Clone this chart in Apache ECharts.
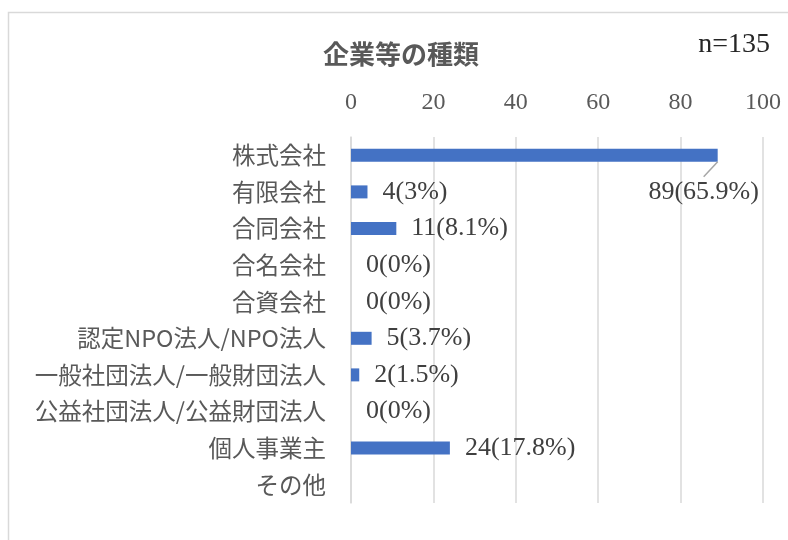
<!DOCTYPE html>
<html>
<head>
<meta charset="utf-8">
<script src="https://cdn.jsdelivr.net/npm/echarts@6/dist/echarts.min.js"></script>
<style>
  html, body { margin: 0; padding: 0; background: #fff; }
  #chart { width: 788px; height: 540px; }
</style>
</head>
<body>
<div id="chart"></div>
<script>
// 企業等の種類 (n=135)
var categories = ['株式会社', '有限会社', '合同会社', '合名会社', '合資会社',
    '認定NPO法人/NPO法人', '一般社団法人/一般財団法人', '公益社団法人/公益財団法人',
    '個人事業主', 'その他'];
var counts = [89, 4, 11, 0, 0, 5, 2, 0, 24, null];
var percents = [65.9, 3, 8.1, 0, 0, 3.7, 1.5, 0, 17.8, null];
var xTicks = [0, 20, 40, 60, 80, 100];
var total = 135;

var serif = '"Liberation Serif", "DejaVu Serif", serif';
var jp = '"Noto Sans CJK JP", sans-serif';
var barW = 13;

var chart = echarts.init(document.getElementById('chart'));

var frame = {
    type: 'rect',
    left: 6,
    top: 10,
    shape: { width: 820, height: 580 },
    style: { fill: 'none', stroke: '#D9D9D9', lineWidth: 1.5 },
    silent: true
};

var option = {
    backgroundColor: '#fff',
    animation: false,
    title: [{
        text: '企業等の種類',
        left: 318,
        top: 36,
        textStyle: { fontFamily: jp, fontSize: 26, fontWeight: 'bold', color: '#595959' }
    }, {
        text: 'n=' + total,
        right: 13,
        top: 26,
        textStyle: { fontFamily: serif, fontSize: 28, fontWeight: 'normal', color: '#262626' }
    }],
    graphic: [frame],
    grid: { left: 351, right: 25, top: 137, bottom: 37 },
    xAxis: {
        type: 'value',
        position: 'top',
        min: xTicks[0],
        max: xTicks[xTicks.length - 1],
        interval: 20,
        axisLine: { show: false },
        axisTick: { show: false },
        axisLabel: { fontFamily: serif, fontSize: 24, color: '#595959', margin: 22 },
        splitLine: { lineStyle: { color: '#D9D9D9', width: 1.5 } }
    },
    yAxis: {
        type: 'category',
        inverse: true,
        data: categories,
        axisLine: { show: true, lineStyle: { color: '#D9D9D9', width: 1.5 } },
        axisTick: { show: false },
        axisLabel: { fontFamily: jp, fontSize: 23.5, color: '#595959', margin: 25 }
    },
    series: [{
        type: 'bar',
        data: counts,
        barWidth: barW,
        itemStyle: { color: '#4472C4' },
        label: {
            show: true,
            position: 'right',
            distance: 15,
            fontFamily: serif,
            fontSize: 26,
            color: '#404040',
            formatter: function (p) {
                if (p.value == null) return '';
                return p.value + '(' + percents[p.dataIndex] + '%)';
            }
        },
        labelLayout: function (params) {
            // 株式会社のラベルだけ棒の右下へ
            if (params.dataIndex !== 0) return {};
            var r = params.rect;
            return {
                x: r.x + r.width - 14,
                y: r.y + r.height + 30,
                align: 'center',
                verticalAlign: 'middle'
            };
        }
    }]
};

chart.setOption(option);

// 引き出し線（棒の端から斜め下へ）
var end = chart.convertToPixel({ seriesIndex: 0 }, [counts[0], 0]);
var ex = end[0], ey = end[1] + barW / 2;
chart.setOption({
    graphic: [frame, {
        type: 'line',
        shape: { x1: ex, y1: ey, x2: ex - 14, y2: ey + 15 },
        style: { stroke: '#A6A6A6', lineWidth: 1.5 },
        z: 10,
        silent: true
    }]
});
</script>
</body>
</html>
